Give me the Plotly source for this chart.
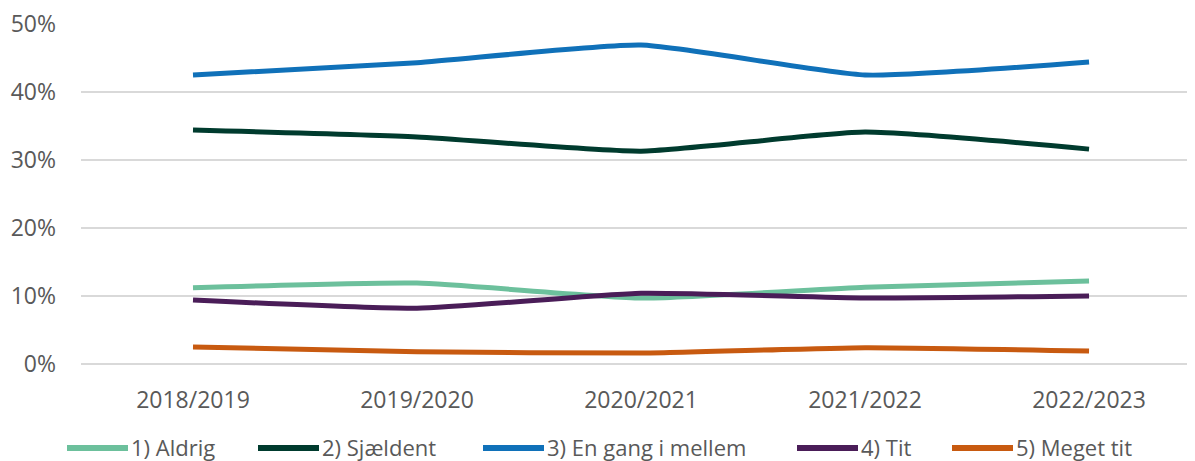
import plotly.graph_objects as go

categories = ["2018/2019", "2019/2020", "2020/2021", "2021/2022", "2022/2023"]
aldrig = [0.112, 0.119, 0.097, 0.113, 0.122]
sjaeldent = [0.344, 0.334, 0.313, 0.341, 0.316]
en_gang = [0.425, 0.443, 0.469, 0.425, 0.444]
tit = [0.094, 0.082, 0.104, 0.097, 0.100]
meget_tit = [0.025, 0.018, 0.016, 0.024, 0.019]
y_ticks = [0.0, 0.1, 0.2, 0.3, 0.4, 0.5]

series_names = ["1) Aldrig", "2) Sjældent", "3) En gang i mellem", "4) Tit", "5) Meget tit"]
series_values = [aldrig, sjaeldent, en_gang, tit, meget_tit]
colors = ["#6CC09C", "#003B2E", "#1071B9", "#4A1D58", "#C85A10"]

# page body has an 8px margin; figure sized to fill the rest of the window
PAGE_OFF = 8
W, H = 1195 - PAGE_OFF, 461 - PAGE_OFF
ML, MR, MT, MB = 81 - PAGE_OFF, 0, 24 - PAGE_OFF, 97
PLOT_W = W - ML - MR
PLOT_H = H - MT - MB

font_family = "'Open Sans', sans-serif"
text_color = "#595959"

fig = go.Figure()
for name, vals, col in zip(series_names, series_values, colors):
    fig.add_trace(go.Scatter(
        x=categories, y=vals, name=name, mode="lines",
        line=dict(color=col, width=5, shape="spline", smoothing=0.5),
    ))

# manual legend (long line keys like the original)
legend_starts_px = [67, 258, 483, 797, 952]   # screen pixel x of each key line
key_len_px = 61
legend_y_px = 447                              # screen pixel y of legend centre
plot_left_px = ML + PAGE_OFF
plot_bottom_px = MT + PAGE_OFF + PLOT_H
ly = (plot_bottom_px - legend_y_px) / PLOT_H
ly_key = (plot_bottom_px - (legend_y_px + 1)) / PLOT_H
shapes, annotations = [], []
for name, col, sx in zip(series_names, colors, legend_starts_px):
    x0 = (sx - plot_left_px) / PLOT_W
    x1 = (sx + key_len_px - plot_left_px) / PLOT_W
    shapes.append(dict(type="line", xref="paper", yref="paper",
                       x0=x0, x1=x1, y0=ly_key, y1=ly_key,
                       line=dict(color=col, width=6)))
    annotations.append(dict(xref="paper", yref="paper", x=x1, y=ly,
                            xanchor="left", yanchor="middle", showarrow=False,
                            text=name, xshift=1,
                            font=dict(family=font_family, size=22, color=text_color)))

fig.update_layout(
    width=W, height=H,
    margin=dict(l=ML, r=MR, t=MT, b=MB, autoexpand=False),
    paper_bgcolor="white", plot_bgcolor="white",
    font=dict(family=font_family, size=23, color=text_color),
    showlegend=False,
    shapes=shapes, annotations=annotations,
    xaxis=dict(type="category", range=[-0.5, 4.473], showgrid=False,
               showline=False, zeroline=False, ticks="", automargin=False,
               ticklabelstandoff=20, tickfont=dict(size=23, color=text_color)),
    yaxis=dict(range=[0, 0.5], tickmode="array", tickvals=y_ticks,
               tickformat=".0%", automargin=False, ticklabeloverflow="allow",
               showgrid=True, gridcolor="#D9D9D9", gridwidth=1.5,
               zeroline=True, zerolinecolor="#D9D9D9", zerolinewidth=1.5,
               showline=False, ticks="", ticklabelstandoff=24,
               tickfont=dict(size=23, color=text_color)),
)

fig.write_html("out.html")
